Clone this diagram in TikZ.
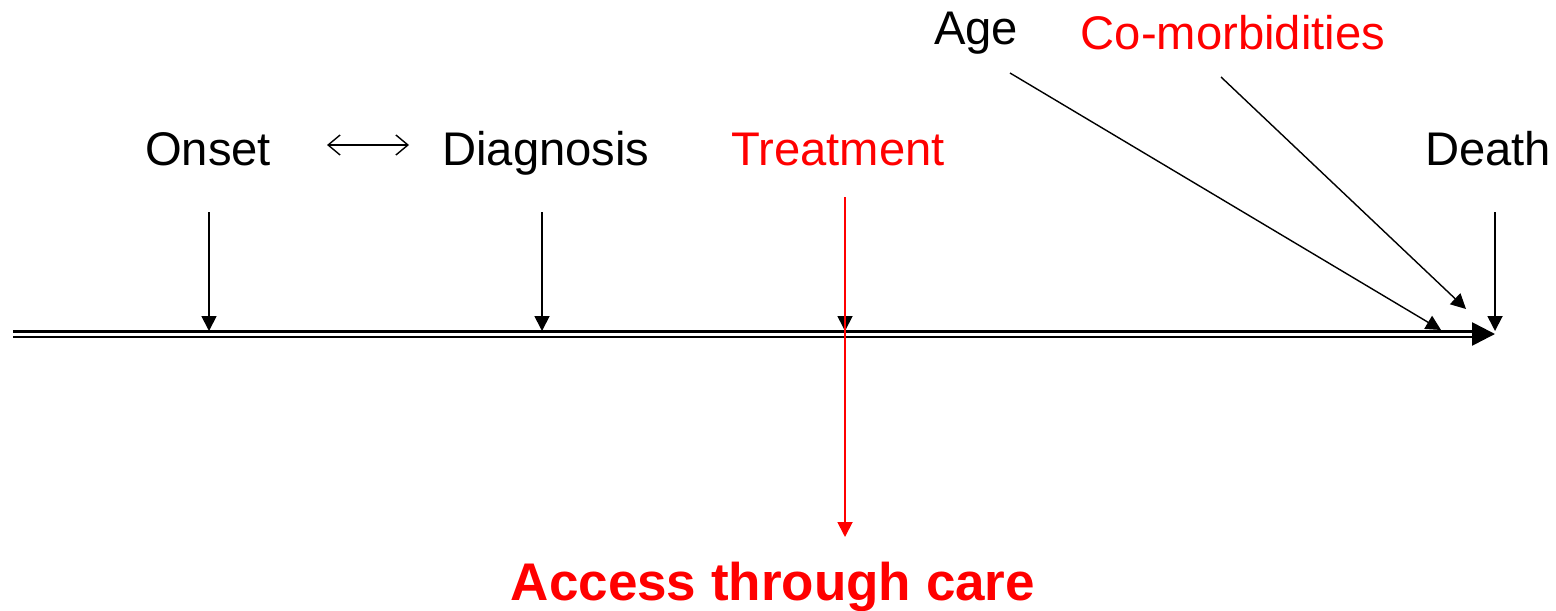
\documentclass[tikz,border=0pt]{standalone}
\usepackage{fontspec}
\setmainfont{Liberation Sans}
\usetikzlibrary{arrows.meta,positioning}
\tikzset{%
  % labels
  event/.style={anchor=base, inner sep=0pt, font=\fontsize{23.6}{26}\selectfont},
  factor/.style={event, text=red},
  outcome/.style={anchor=base, inner sep=0pt, text=red, font=\fontsize{26.5}{30}\selectfont\bfseries},
  % edge styles
  timeline/.style={double, double distance=1.5pt, line width=1.3pt, -{Triangle[length=11.5pt, width=11.5pt]}},
  tick/.style={line width=0.9pt, -{Triangle[length=7.5pt, width=7.5pt]}},
  lead/.style={line width=0.7pt, -{Triangle[length=7.5pt, width=7.5pt]}},
  link/.style={line width=0.7pt, {Straight Barb[length=6pt, width=10pt]}-{Straight Barb[length=6pt, width=10pt]}},
  care/.style={red, line width=0.9pt, -{Triangle[length=7.5pt, width=7.5pt]}},
}
\begin{document}
\begin{tikzpicture}[x=0.5pt, y=-0.5pt]
  \useasboundingbox (0,0) rectangle (1556,610);

  % Events
  \node[event] (onset) at (208,165) {Onset};
  \node[event] (diag) at (546,165) {Diagnosis};
  \node[factor] (treat) at (838,165) {Treatment};
  \node[event] (death) at (1488,165) {Death};
  \node[event] (age) at (976,45) {Age};
  \node[factor] (comorb) at (1233,50) {Co-morbidities};
  \node[outcome] (access) at (773,600) {Access through care};

  % Timeline
  \coordinate (tl_start) at (13,334);
  \coordinate (tl_end) at (1495,334);
  \draw[timeline] (tl_start) -- (tl_end);

  % Ticks onto the timeline
  \coordinate (onset_top) at (209,212);
  \coordinate (onset_hit) at (209,331);
  \coordinate (diag_top) at (542,212);
  \coordinate (diag_hit) at (542,331);
  \coordinate (treat_top) at (845,212);
  \coordinate (treat_hit) at (845,331);
  \coordinate (death_top) at (1495,212);
  \coordinate (death_hit) at (1495,331);
  \draw[tick] (onset_top) -- (onset_hit);
  \draw[tick] (diag_top) -- (diag_hit);
  \draw[tick] (treat_top) -- (treat_hit);
  \draw[tick] (death_top) -- (death_hit);

  % Onset <-> Diagnosis
  \coordinate (link_l) at (327,145);
  \coordinate (link_r) at (409,145);
  \draw[link] (link_l) -- (link_r);

  % Age and co-morbidities
  \coordinate (age_tail) at (1010,73);
  \coordinate (age_head) at (1441,330);
  \coordinate (comorb_tail) at (1221,77);
  \coordinate (comorb_head) at (1466,309);
  \draw[lead] (age_tail) -- (age_head);
  \draw[lead] (comorb_tail) -- (comorb_head);

  % Care
  \coordinate (care_top) at (845,197);
  \coordinate (care_end) at (845,537);
  \draw[care] (care_top) -- (care_end);
\end{tikzpicture}
\end{document}
